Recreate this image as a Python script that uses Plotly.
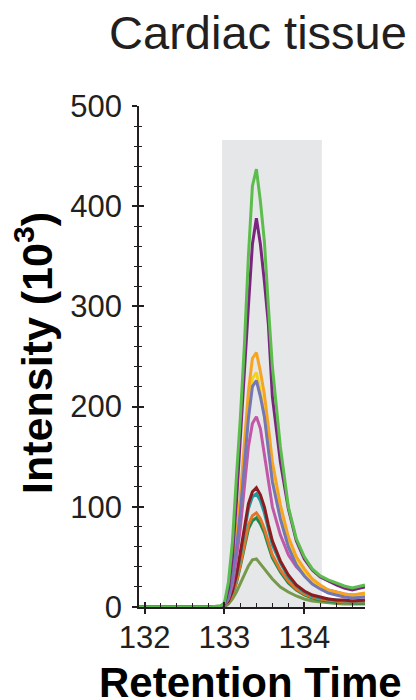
import plotly.graph_objects as go

# Retention time grid (min)
rt = [131.93, 132.2, 132.5, 132.8, 132.95, 133.0, 133.05, 133.1, 133.15, 133.2,
      133.25, 133.3, 133.35, 133.4, 133.45, 133.5, 133.55, 133.6, 133.7, 133.8,
      133.9, 134.0, 134.1, 134.2, 134.3, 134.4, 134.5, 134.6, 134.76]

# Intensity (10^3) per sample
olive      = [0, 0, 0, 0, 0, 0, 3, 8, 15, 24, 33, 41, 47, 48, 43, 38, 33, 28, 20, 15, 11, 8, 6, 5, 4, 3.5, 3, 3, 3]
darkgreen  = [0, 0, 0, 0, 0, 1, 5, 12, 24, 41, 60, 78, 86, 89, 83, 74, 61, 49, 35, 24, 17, 12, 9, 7, 6, 5, 5, 4, 4]
darkorange = [0, 0, 0, 0, 0, 1, 5, 12, 25, 43, 63, 82, 91, 94, 88, 78, 65, 52, 37, 26, 18, 13, 10, 8, 7, 6, 5, 5, 5]
teal       = [0, 0, 0, 0, 0, 2, 6, 15, 30, 52, 76, 98, 110, 113, 106, 94, 78, 62, 44, 30, 21, 15, 11, 9, 8, 7, 6, 6, 6]
darkred    = [0, 0, 0, 0, 0, 2, 6, 16, 32, 55, 80, 103, 115, 119, 112, 100, 82, 66, 46, 32, 22, 16, 12, 10, 8, 7, 7, 6, 7]
pink       = [0, 0, 0, 0, 0, 2, 8, 22, 48, 80, 120, 160, 183, 190, 178, 152, 122, 100, 72, 52, 40, 32, 26, 21, 17, 15, 13, 12, 12]
yellow     = [0, 0, 0, 0, 0, 2, 10, 30, 62, 100, 148, 196, 228, 234, 215, 192, 160, 128, 90, 62, 44, 33, 25, 19, 15, 13, 11, 10, 12]
orange     = [0, 0, 0, 0, 0, 3, 12, 35, 70, 112, 162, 215, 248, 254, 235, 212, 180, 145, 102, 70, 50, 38, 28, 22, 17, 15, 13, 12, 14]
slate      = [0, 0, 0, 0, 0, 2, 9, 28, 58, 95, 140, 188, 220, 226, 210, 190, 157, 125, 88, 60, 42, 31, 23, 18, 14, 12, 10, 9, 10]
purple     = [0, 0, 0, 0, 1, 3, 18, 50, 105, 165, 235, 300, 362, 388, 362, 325, 282, 210, 145, 98, 66, 48, 37, 30, 26, 22, 19, 17, 20]
green      = [0, 0, 0, 0, 1, 4, 25, 65, 130, 190, 262, 350, 420, 437, 405, 365, 300, 240, 160, 100, 68, 50, 38, 31, 27, 24, 21, 19, 22]

series = [
    ("olive", olive, "#76994c"),
    ("dark green", darkgreen, "#1f8a4c"),
    ("dark orange", darkorange, "#e2762a"),
    ("teal", teal, "#1d9a9c"),
    ("dark red", darkred, "#8e1b1f"),
    ("pink", pink, "#c257a8"),
    ("yellow", yellow, "#f4d21c"),
    ("orange", orange, "#f7a521"),
    ("slate", slate, "#7476b6"),
    ("purple", purple, "#7a267f"),
    ("green", green, "#5bbd4b"),
]

# Highlighted integration window
win_x0, win_x1, win_top = 132.97, 134.22, 466

x_range = [131.93, 134.76]
y_range = [0, 500]
ink = "#231f20"
font_family = "Liberation Sans, Arial, sans-serif"

# the page body has an 8px margin; figure offset by 8px in the window
W, H = 408, 692
L, T, R, B = 131, 98, 51, 93
pw, ph = W - L - R, H - T - B

fig = go.Figure()
for name, vals, col in series:
    fig.add_trace(go.Scatter(x=rt, y=vals, mode="lines", name=name,
                             line=dict(color=col, width=3), showlegend=False))

# invisible trace for the overlay axes (inside ticks)
fig.add_trace(go.Scatter(x=[x_range[0]], y=[y_range[0]], xaxis="x2", yaxis="y2",
                         mode="markers", marker=dict(opacity=0), showlegend=False,
                         hoverinfo="skip"))

fig.add_shape(type="rect", xref="x", yref="y", x0=win_x0, x1=win_x1, y0=0, y1=win_top,
              fillcolor="#e6e7e8", line=dict(width=0), layer="below")

fig.update_layout(
    width=W, height=H,
    margin=dict(l=L, r=R, t=T, b=B, autoexpand=False),
    paper_bgcolor="white", plot_bgcolor="white",
    font=dict(family=font_family, color=ink),
    title=dict(text="Cardiac tissue", x=250/W, xanchor="center", xref="container",
               y=1-25/H, yanchor="middle", yref="container",
               font=dict(size=47, color=ink, family=font_family)),
    xaxis=dict(range=x_range, tickvals=[132, 133, 134], ticks="outside", ticklen=5,
               tickwidth=1.5, tickcolor=ink, showline=True, linecolor=ink, linewidth=1.5,
               showgrid=False, zeroline=False, tickfont=dict(size=31, color=ink),
               ticklabelstandoff=-3,
               minor=dict(dtick=0.2, tick0=132, ticks="", showgrid=False)),
    yaxis=dict(range=y_range, tickvals=[0, 100, 200, 300, 400, 500], ticks="outside",
               ticklen=5, tickwidth=1.5, tickcolor=ink, showline=True, linecolor=ink,
               linewidth=1.5, showgrid=False, zeroline=False,
               tickfont=dict(size=31, color=ink), ticklabelstandoff=4,
               minor=dict(dtick=20, tick0=0, ticks="outside", ticklen=3, tickwidth=1.2,
                          tickcolor=ink, showgrid=False)),
    xaxis2=dict(range=x_range, overlaying="x", anchor="y2", side="bottom",
                tickvals=[132, 133, 134], ticks="inside", ticklen=5, tickwidth=1.5,
                tickcolor=ink, showticklabels=False, showline=False, showgrid=False,
                zeroline=False,
                minor=dict(dtick=0.2, tick0=132, ticks="inside", ticklen=4, tickwidth=1.2,
                           tickcolor=ink, showgrid=False)),
    yaxis2=dict(range=y_range, overlaying="y", anchor="x2", side="left",
                tickvals=[0, 100, 200, 300, 400, 500], ticks="inside", ticklen=5,
                tickwidth=1.5, tickcolor=ink, showticklabels=False, showline=False,
                showgrid=False, zeroline=False,
                minor=dict(dtick=20, tick0=0, ticks="inside", ticklen=3, tickwidth=1.2,
                           tickcolor=ink, showgrid=False)),
    annotations=[
        dict(text="<b>Retention Time</b>", xref="paper", yref="paper",
             x=(250-139)/pw, y=(607-682)/ph, xanchor="center", yanchor="middle",
             showarrow=False, font=dict(size=42, color="black", family=font_family)),
        dict(text="<b>Intensity (10<sup>3</sup>)</b>", xref="paper", yref="paper",
             x=(34-139)/pw, y=(607-353)/ph, xanchor="center", yanchor="middle",
             textangle=-90, showarrow=False,
             font=dict(size=43, color="black", family=font_family)),
    ],
)

fig.write_html("out.html")
